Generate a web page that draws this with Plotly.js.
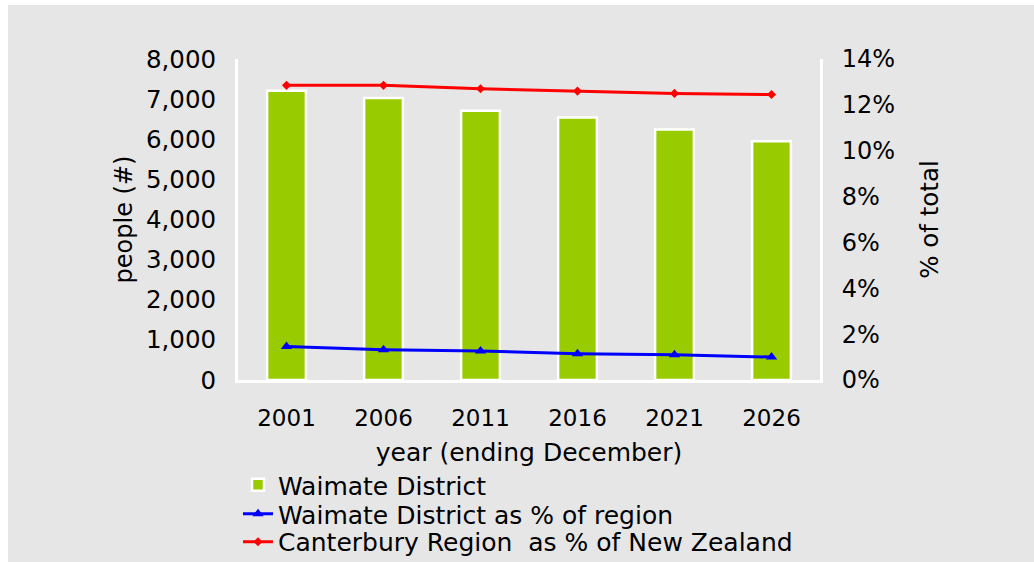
<!DOCTYPE html>
<html>
<head>
<meta charset="utf-8">
<script src="https://cdn.plot.ly/plotly-3.0.1.min.js"></script>
<style>
  html, body { margin: 0; padding: 0; background: #ffffff; }
  #chart { position: absolute; left: 8px; top: 5px; width: 1026px; height: 557px; }
</style>
</head>
<body>
<div id="chart"></div>
<script>
// Data
const years = ['2001', '2006', '2011', '2016', '2021', '2026'];
const waimatePeople = [7210, 7030, 6710, 6540, 6240, 5950];
const waimatePctOfRegion = [0.0146, 0.0132, 0.0127, 0.0115, 0.0110, 0.0100];
const canterburyPctOfNZ = [0.1285, 0.1285, 0.1270, 0.1260, 0.1250, 0.1245];

const seriesNames = [
  'Waimate District',
  'Waimate District as % of region',
  'Canterbury Region \u00a0as % of New Zealand'
];

const FONT = 'DejaVu Sans, Verdana, sans-serif';
const LEGEND_FONT = { family: FONT, size: 25, color: '#000000' };

const traces = [
  {
    type: 'bar',
    name: seriesNames[0],
    x: years,
    y: waimatePeople,
    width: 0.4,
    marker: { color: '#99cc00', line: { color: '#ffffff', width: 2.5 } },
    yaxis: 'y',
    legend: 'legend'
  },
  {
    type: 'scatter',
    mode: 'lines+markers',
    name: seriesNames[1],
    x: years,
    y: waimatePctOfRegion,
    line: { color: '#0000ff', width: 3 },
    marker: { symbol: 'triangle-up', size: 10, color: '#0000ff' },
    yaxis: 'y2',
    legend: 'legend2'
  },
  {
    type: 'scatter',
    mode: 'lines+markers',
    name: seriesNames[2],
    x: years,
    y: canterburyPctOfNZ,
    line: { color: '#ff0000', width: 3 },
    marker: { symbol: 'diamond', size: 7, color: '#ff0000' },
    yaxis: 'y2',
    legend: 'legend3'
  }
];

function legendAt(y) {
  return {
    x: 0,
    xanchor: 'left',
    y: y,
    yanchor: 'top',
    orientation: 'v',
    bgcolor: 'rgba(0,0,0,0)',
    borderwidth: 0,
    font: LEGEND_FONT,
    itemwidth: 30
  };
}

const layout = {
  width: 1026,
  height: 557,
  paper_bgcolor: '#e6e6e6',
  plot_bgcolor: '#e6e6e6',
  font: { family: FONT, size: 23, color: '#000000' },
  margin: { l: 230, r: 214, t: 54, b: 182, autoexpand: false },
  showlegend: true,
  xaxis: {
    type: 'category',
    showline: true,
    linecolor: '#ffffff',
    linewidth: 3,
    showgrid: false,
    zeroline: false,
    ticks: '',
    ticklabelstandoff: 15,
    automargin: false,
    tickfont: { family: FONT, size: 23, color: '#000000' },
    title: { text: 'year (ending December)', font: { family: FONT, size: 25, color: '#000000' }, standoff: 14 }
  },
  yaxis: {
    range: [0, 8000],
    dtick: 1000,
    tickformat: ',d',
    showline: true,
    linecolor: '#ffffff',
    linewidth: 3,
    showgrid: false,
    zeroline: false,
    ticks: '',
    ticklabelstandoff: 14,
    automargin: false,
    tickfont: { family: FONT, size: 24.5, color: '#000000' },
    title: { text: 'people (#)', font: { family: FONT, size: 24, color: '#000000' }, standoff: 7 }
  },
  yaxis2: {
    overlaying: 'y',
    side: 'right',
    range: [0, 0.14],
    dtick: 0.02,
    tickformat: '.0%',
    showline: true,
    linecolor: '#ffffff',
    linewidth: 3,
    showgrid: false,
    zeroline: false,
    ticks: '',
    ticklabelstandoff: 14,
    automargin: false,
    tickfont: { family: FONT, size: 24, color: '#000000' },
    title: { text: '% of total', font: { family: FONT, size: 24.5, color: '#000000' }, standoff: 27 }
  },
  legend: legendAt(-0.2555),
  legend2: legendAt(-0.3458),
  legend3: legendAt(-0.4330)
};

Plotly.newPlot('chart', traces, layout, { displayModeBar: false, staticPlot: true });
</script>
</body>
</html>
